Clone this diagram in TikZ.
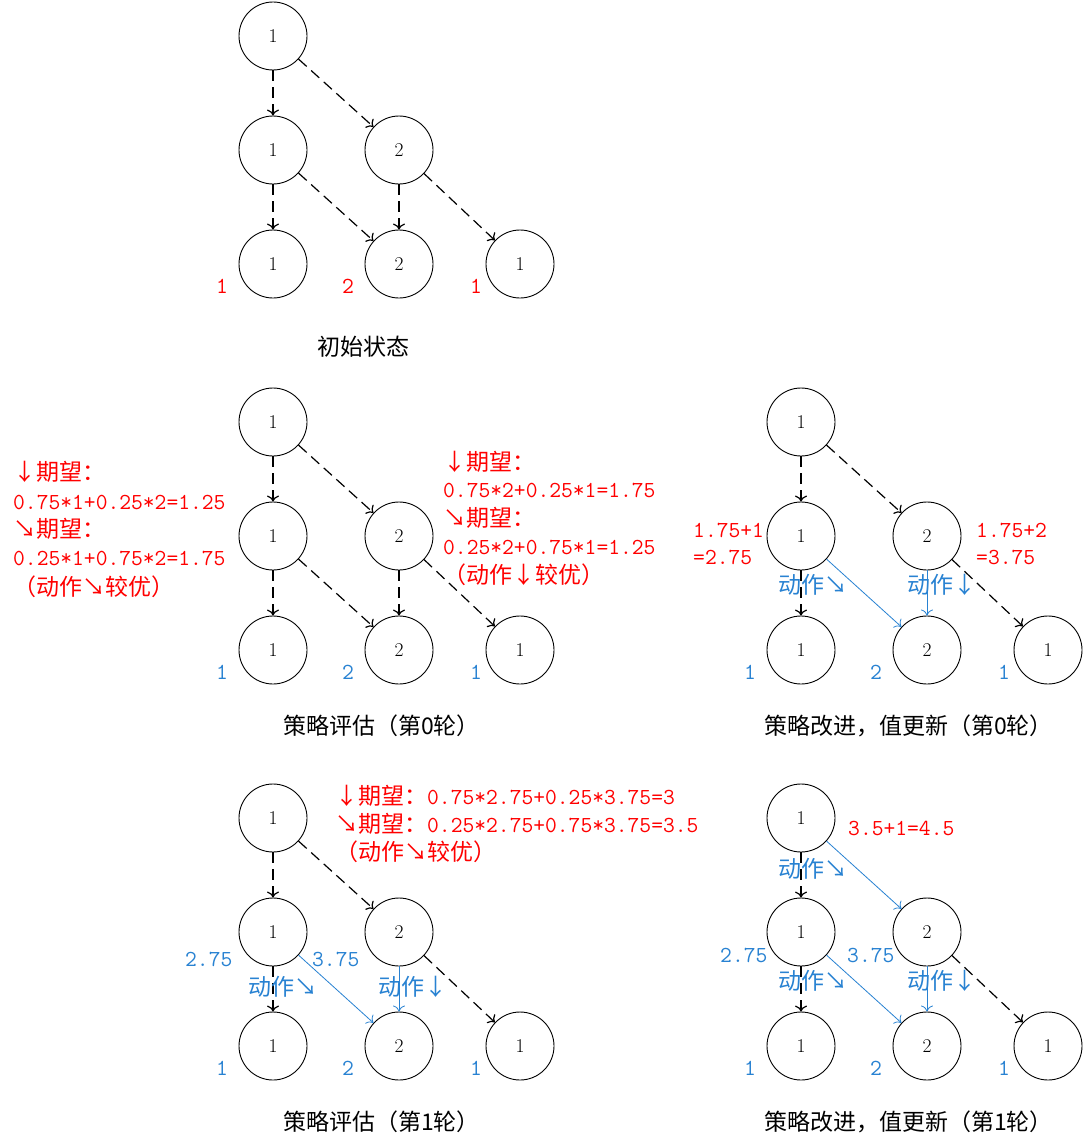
\documentclass[tikz,border=0pt]{standalone}
\usepackage{fontspec}
\newfontfamily\cjkf{Noto Sans CJK SC}
\usetikzlibrary{arrows.meta}
\definecolor{myred}{RGB}{255,0,0}
\definecolor{myblue}{RGB}{40,130,210}
\newcommand\zh[1]{{\fontsize{23}{28}\selectfont\cjkf #1}}
\tikzset{
 circ/.style={circle,draw,line width=0.9pt,minimum size=68pt,inner sep=0pt,font=\fontsize{19.5}{20}\selectfont},
 dashar/.style={line width=1.2pt,dash pattern=on 11pt off 6pt,-{To[length=6pt,width=12pt]}},
 bluar/.style={line width=0.8pt,draw=myblue,-{To[length=6pt,width=12pt]}},
 rtxt/.style={anchor=west,inner sep=0pt,text=myred,font=\fontsize{22.9}{28}\selectfont\ttfamily},
 btxt/.style={anchor=west,inner sep=0pt,text=myblue,font=\fontsize{22.9}{28}\selectfont\ttfamily},
 leaflab/.style={inner sep=0pt,font=\fontsize{23}{28}\selectfont\ttfamily},
 captxt/.style={anchor=west,inner sep=0pt,font=\fontsize{23}{28}\selectfont\cjkf},
}
\newcommand\mktree[4]{%
 \begin{scope}[shift={(#2,#3)}]
  \node[circ] (#1r) at (0,0) {1};
  \node[circ] (#1a) at (0,114) {1};
  \node[circ] (#1b) at (126,114) {2};
  \node[circ] (#1c) at (0,228) {1};
  \node[circ] (#1d) at (126,228) {2};
  \node[circ] (#1e) at (247,228) {1};
  \node[leaflab,text=#4] (#1lc) at (-51,250) {1};
  \node[leaflab,text=#4] (#1ld) at (75,250) {2};
  \node[leaflab,text=#4] (#1le) at (203,250) {1};
 \end{scope}}
\begin{document}
\begin{tikzpicture}[x=1pt,y=-1pt]
\useasboundingbox[fill=white] (0,0) rectangle (1085,1148);
% tree 1
\mktree{A}{273}{36}{myred}
\draw[dashar] (Ar) -- (Aa); \draw[dashar] (Ar) -- (Ab);
\draw[dashar] (Aa) -- (Ac); \draw[dashar] (Aa) -- (Ad);
\draw[dashar] (Ab) -- (Ad); \draw[dashar] (Ab) -- (Ae);
\node[captxt] (capA) at (317,347) {初始状态};
% tree 2
\mktree{B}{273}{422}{myblue}
\draw[dashar] (Br) -- (Ba); \draw[dashar] (Br) -- (Bb);
\draw[dashar] (Ba) -- (Bc); \draw[dashar] (Ba) -- (Bd);
\draw[dashar] (Bb) -- (Bd); \draw[dashar] (Bb) -- (Be);
\node[captxt] (capB) at (283,726) {策略评估（第0轮）};
\node[rtxt] (B1) at (13,472) {\zh{↓期望：}};
\node[rtxt] (B2) at (13,502) {0.75*1+0.25*2=1.25};
\node[rtxt] (B3) at (13,529) {\zh{↘期望：}};
\node[rtxt] (B4) at (13,558) {0.25*1+0.75*2=1.75};
\node[rtxt] (B5) at (13,587) {\zh{（动作↘较优）}};
\node[rtxt] (B6) at (443,462) {\zh{↓期望：}};
\node[rtxt] (B7) at (443,490) {0.75*2+0.25*1=1.75};
\node[rtxt] (B8) at (443,518) {\zh{↘期望：}};
\node[rtxt] (B9) at (443,547) {0.25*2+0.75*1=1.25};
\node[rtxt] (B10) at (443,575) {\zh{（动作↓较优）}};
% tree 3
\mktree{C}{801}{422}{myblue}
\draw[dashar] (Cr) -- (Ca); \draw[dashar] (Cr) -- (Cb);
\draw[dashar] (Ca) -- (Cc); \draw[bluar] (Ca) -- (Cd);
\draw[bluar] (Cb) -- (Cd); \draw[dashar] (Cb) -- (Ce);
\node[captxt] (capC) at (764,726) {策略改进，值更新（第0轮）};
\node[rtxt] (C1) at (693,530) {1.75+1};
\node[rtxt] (C2) at (693,557) {=2.75};
\node[rtxt] (C3) at (976,530) {1.75+2};
\node[rtxt] (C4) at (976,557) {=3.75};
\node[btxt] (C5) at (778,585) {\zh{动作↘}};
\node[btxt] (C6) at (907,585) {\zh{动作↓}};
% tree 4
\mktree{D}{273}{818}{myblue}
\draw[dashar] (Dr) -- (Da); \draw[dashar] (Dr) -- (Db);
\draw[dashar] (Da) -- (Dc); \draw[bluar] (Da) -- (Dd);
\draw[bluar] (Db) -- (Dd); \draw[dashar] (Db) -- (De);
\node[captxt] (capD) at (283,1122) {策略评估（第1轮）};
\node[rtxt] (D1) at (335,796) {\zh{↓期望：}0.75*2.75+0.25*3.75=3};
\node[rtxt] (D2) at (335,824) {\zh{↘期望：}0.25*2.75+0.75*3.75=3.5};
\node[rtxt] (D3) at (335,852) {\zh{（动作↘较优）}};
\node[btxt] (D4) at (185,959) {2.75};
\node[btxt] (D5) at (312,959) {3.75};
\node[btxt] (D6) at (248,987) {\zh{动作↘}};
\node[btxt] (D7) at (378,987) {\zh{动作↓}};
% tree 5
\mktree{E}{801}{818}{myblue}
\draw[dashar] (Er) -- (Ea); \draw[bluar] (Er) -- (Eb);
\draw[dashar] (Ea) -- (Ec); \draw[bluar] (Ea) -- (Ed);
\draw[bluar] (Eb) -- (Ed); \draw[dashar] (Eb) -- (Ee);
\node[captxt] (capE) at (764,1122) {策略改进，值更新（第1轮）};
\node[rtxt] (E1) at (848,828) {3.5+1=4.5};
\node[btxt] (E2) at (778,869) {\zh{动作↘}};
\node[btxt] (E3) at (720,955) {2.75};
\node[btxt] (E4) at (847,955) {3.75};
\node[btxt] (E5) at (778,981) {\zh{动作↘}};
\node[btxt] (E6) at (907,981) {\zh{动作↓}};
\end{tikzpicture}
\end{document}
